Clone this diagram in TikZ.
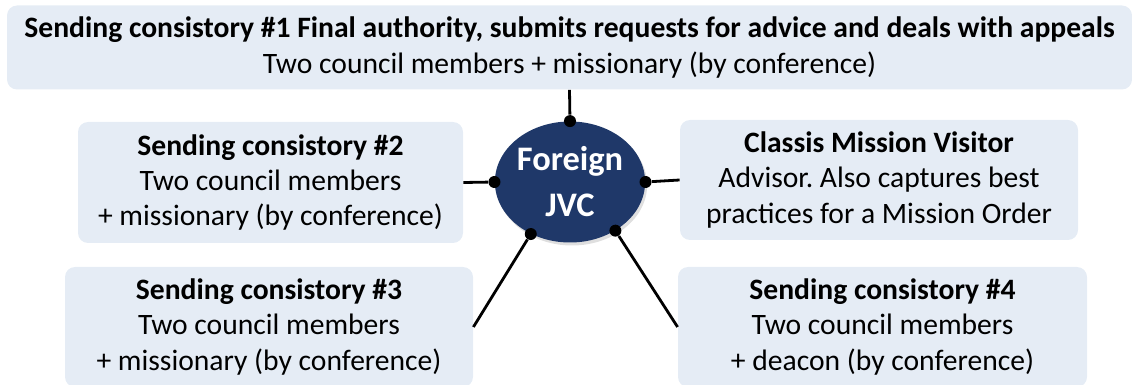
\documentclass[tikz,border=0pt]{standalone}
\usepackage{fontspec}
\setmainfont{Carlito}
\usepackage{tikz}
\usetikzlibrary{shapes.geometric}
\usetikzlibrary{shadows}

\definecolor{boxfill}{RGB}{229,236,245}
\definecolor{jvcblue}{RGB}{31,56,105}
\frenchspacing

\tikzset{
	infobox/.style={fill=boxfill, rounded corners=5pt, align=center, inner sep=0pt,
		font=\fontsize{14.8pt}{17.7pt}\selectfont},
	jvcnode/.style={ellipse, fill=jvcblue, text=white, align=center, inner sep=0pt,
		minimum width=69pt, minimum height=60.5pt,
		font=\fontsize{17.2pt}{23pt}\selectfont\bfseries,
		drop shadow={shadow xshift=1pt, shadow yshift=-1.5pt, opacity=0.25}},
	dot/.style={circle, fill=black, inner sep=0pt, minimum size=6pt},
	link/.style={line width=1.4pt}
}

\begin{document}
\begin{tikzpicture}[x=0.5pt,y=-0.5pt]
		\useasboundingbox (0,0) rectangle (1132,385);
		\clip (0,0) rectangle (1132,385);
		
		\node[infobox, minimum width=562.5pt, minimum height=42pt] (top) at (569.5,47.5) {\textbf{Sending consistory \#1 Final authority, submits requests for advice and deals with appeals}\\Two council members + missionary (by conference)};
		
		\node[infobox, minimum width=192.5pt, minimum height=60.5pt] (sc2) at (270.5,182.5) {\textbf{Sending consistory \#2}\\Two council members\\+ missionary (by conference)};
		\node[infobox, minimum width=199pt, minimum height=60pt] (cmv) at (879,180) {\textbf{Classis Mission Visitor}\\Advisor. Also captures best\\practices for a Mission Order};
		
		\node[infobox, minimum width=204pt, minimum height=60pt] (sc3) at (269,327) {\textbf{Sending consistory \#3}\\Two council members\\+ missionary (by conference)};
		\node[infobox, minimum width=204.5pt, minimum height=60pt] (sc4) at (882.5,327) {\textbf{Sending consistory \#4}\\Two council members\\+ deacon (by conference)};
		
		\node[jvcnode] (jvc) at (570,182) {Foreign\\JVC};
		
		% dots on the ellipse
		\node[dot] (d1) at (jvc.north) {};
		\node[dot] (d2) at (jvc.west) {};
		\node[dot] (d3) at (jvc.east) {};
		\node[dot] (d4) at (jvc.233) {};
		\node[dot] (d5) at (jvc.313) {};
		
		\draw[link] (top.south) -- (d1);
		\draw[link] (sc2.east) -- (d2);
		\draw[link] (cmv.west) -- (d3);
		\draw[link] (sc3.east) -- (d4);
		\draw[link] (sc4.west) -- (d5);
		
	\end{tikzpicture}
\end{document}
